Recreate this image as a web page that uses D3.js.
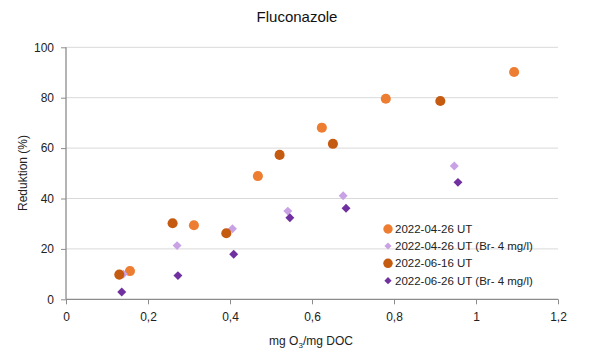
<!DOCTYPE html>
<html><head><meta charset="utf-8">
<script src="https://cdn.jsdelivr.net/npm/d3@7"></script>
<style>body{margin:0;background:#fff}svg{display:block;font-family:"Liberation Sans",Arial,sans-serif}</style>
</head><body><svg id="c" width="595" height="364"></svg>
<script>
const seriesNames = ["2022-04-26 UT","2022-04-26 UT (Br- 4 mg/l)","2022-06-16 UT","2022-06-26 UT (Br- 4 mg/l)"];
const s1x = [0.156,0.312,0.468,0.624,0.780,1.093];
const s1y = [11.2,29.4,48.9,68.1,79.6,90.2];
const s2x = [0.140,0.271,0.406,0.541,0.676,0.947];
const s2y = [10.0,21.3,28.0,35.0,41.1,52.9];
const s3x = [0.130,0.260,0.391,0.521,0.651,0.913];
const s3y = [9.8,30.2,26.2,57.3,61.7,78.7];
const s4x = [0.136,0.273,0.409,0.546,0.683,0.956];
const s4y = [2.9,9.4,17.9,32.4,36.1,46.4];
const xTicks = [0,0.2,0.4,0.6,0.8,1,1.2];
const yTicks = [0,20,40,60,80,100];

const colors = ["#ED7D31","#C9A2E6","#C55A11","#7030A0"];
const shapes = ["circle","diamond","circle","diamond"];
const data = [[s1x,s1y],[s2x,s2y],[s3x,s3y],[s4x,s4y]];

const svg = d3.select("#c");
const L=66,R=558,T=47.3,B=299.3;
const x = d3.scaleLinear().domain([0,1.2]).range([L,R]);
const y = d3.scaleLinear().domain([0,100]).range([B,T]);
const fmt = d => String(d).replace(".",",");

svg.append("g").selectAll("line").data(yTicks.filter(d=>d>0)).join("line")
  .attr("x1",L).attr("x2",R).attr("y1",d=>y(d)).attr("y2",d=>y(d))
  .attr("stroke","#D9D9D9").attr("stroke-width",1);

const xa = svg.append("g").attr("transform",`translate(0,${B})`)
  .call(d3.axisBottom(x).tickValues(xTicks).tickFormat(fmt).tickSize(5).tickPadding(8));
const ya = svg.append("g").attr("transform",`translate(${L},0)`)
  .call(d3.axisLeft(y).tickValues(yTicks).tickSize(5).tickPadding(7));
[xa,ya].forEach(a=>{
  a.select(".domain").attr("stroke","#8C8C8C").attr("stroke-width",1.3);
  a.selectAll(".tick line").attr("stroke","#8C8C8C");
  a.selectAll("text").attr("font-size",12).attr("fill","#222").attr("font-family","Liberation Sans, Arial, sans-serif");
});
xa.select(".domain").attr("d",`M${L},0H${R}`);
ya.select(".domain").attr("d",`M0,${B}V${T}`);

function marker(shape, big){
  if(shape==="circle") return d3.symbol().type(d3.symbolCircle).size(big?80:70)();
  return d3.symbol().type(d3.symbolSquare).size(big?40:26)();
}
function rot(shape){ return shape==="diamond" ? " rotate(45)" : ""; }

data.forEach(([xs,ys],i)=>{
  svg.append("g").selectAll("path").data(xs.map((v,j)=>[v,ys[j]])).join("path")
    .attr("d",marker(shapes[i],true))
    .attr("transform",d=>`translate(${x(d[0])},${y(d[1])})${rot(shapes[i])}`)
    .attr("fill",colors[i]);
});

const lg = svg.append("g");
const ly = [229,246,263.3,280.7];
seriesNames.forEach((n,i)=>{
  lg.append("path").attr("d",marker(shapes[i],false))
    .attr("transform",`translate(388,${ly[i]})${rot(shapes[i])}`).attr("fill",colors[i]);
  lg.append("text").attr("x",395).attr("y",ly[i]).attr("dy","0.36em")
    .attr("font-size",11.5).attr("fill","#222").text(n);
});

svg.append("text").attr("x",297).attr("y",22).attr("text-anchor","middle")
  .attr("font-size",15).attr("fill","#111").text("Fluconazole");

svg.append("text").attr("transform","translate(27,173) rotate(-90)").attr("text-anchor","middle")
  .attr("font-size",12).attr("fill","#222").text("Reduktion (%)");

const xl = svg.append("text").attr("x",311).attr("y",345).attr("text-anchor","middle")
  .attr("font-size",12).attr("fill","#222");
xl.append("tspan").text("mg O");
xl.append("tspan").attr("font-size",8).attr("dy",3).text("3");
xl.append("tspan").attr("dy",-3).text("/mg DOC");
</script>
</body></html>
